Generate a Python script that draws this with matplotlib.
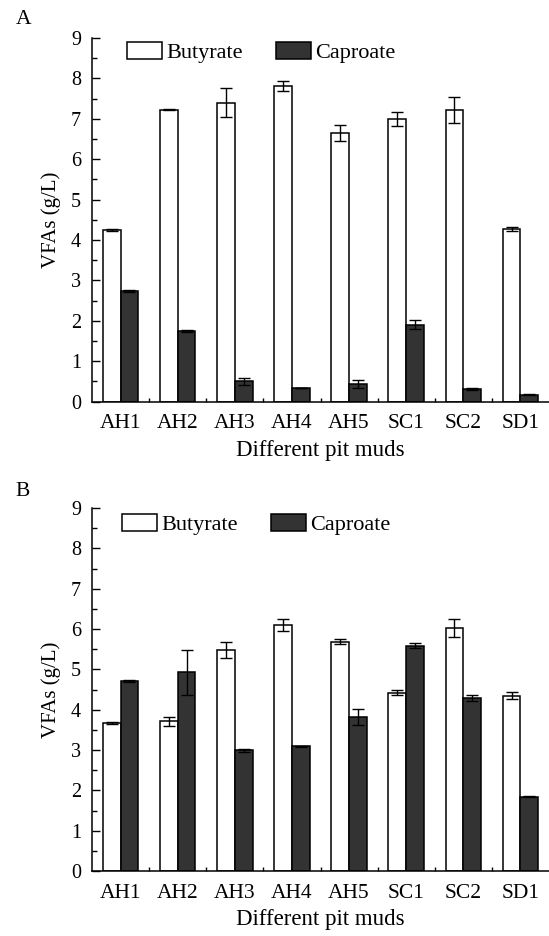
import numpy as np
import matplotlib
matplotlib.use("Agg")
import matplotlib.pyplot as plt
from matplotlib.ticker import MultipleLocator, FixedLocator

plt.rcParams['font.family'] = ['Liberation Serif', 'DejaVu Serif']

## Data
muds = ["AH1", "AH2", "AH3", "AH4", "AH5", "SC1", "SC2", "SD1"]

# panel A
butyrate_a = [4.25, 7.23, 7.40, 7.81, 6.64, 6.99, 7.22, 4.27]
butyrate_a_err = [0.02, 0.02, 0.36, 0.12, 0.20, 0.17, 0.33, 0.05]
caproate_a = [2.74, 1.75, 0.50, 0.35, 0.44, 1.91, 0.31, 0.17]
caproate_a_err = [0.03, 0.02, 0.08, 0.0, 0.09, 0.11, 0.02, 0.01]

# panel B
butyrate_b = [3.67, 3.71, 5.48, 6.11, 5.69, 4.42, 6.03, 4.35]
butyrate_b_err = [0.03, 0.12, 0.21, 0.15, 0.07, 0.06, 0.22, 0.09]
caproate_b = [4.71, 4.93, 2.99, 3.09, 3.82, 5.59, 4.29, 1.84]
caproate_b_err = [0.03, 0.56, 0.04, 0.02, 0.19, 0.07, 0.07, 0.01]

fig = plt.figure(figsize=(5.49, 9.36), dpi=100)

W, H = 549.0, 936.0
def ax_rect(left, top, right, bottom):
    return [left / W, 1 - bottom / H, (right - left) / W, (bottom - top) / H]

axA = fig.add_axes(ax_rect(92, 38, 549, 401.7))
axB = fig.add_axes(ax_rect(92, 508, 549, 871))

x = np.arange(1, len(muds) + 1)
w = 0.31

def draw_panel(ax, but, but_err, cap, cap_err, leg_pos):
    ekw = dict(ecolor='black', elinewidth=1.0, capsize=4.5, capthick=1.0)
    ax.bar(x - w / 2, but, w, yerr=but_err, color='white', edgecolor='black',
           linewidth=1.1, error_kw=ekw, label='Butyrate')
    ax.bar(x + w / 2, cap, w, yerr=cap_err, color='#333333', edgecolor='black',
           linewidth=1.1, error_kw=ekw, label='Caproate')
    ax.set_xlim(0.5, 8.5)
    ax.set_ylim(0, 9)
    ax.spines['top'].set_visible(False)
    ax.spines['right'].set_visible(False)
    ax.spines['left'].set_linewidth(1.1)
    ax.spines['bottom'].set_linewidth(1.1)
    ax.yaxis.set_major_locator(MultipleLocator(1))
    ax.yaxis.set_minor_locator(MultipleLocator(0.5))
    ax.set_xticks(x)
    ax.set_xticklabels(muds)
    ax.xaxis.set_minor_locator(FixedLocator(np.arange(1.5, 8.5, 1)))
    ax.tick_params(axis='y', which='major', direction='in', length=6, width=1,
                   labelsize=14.5, pad=8)
    ax.tick_params(axis='y', which='minor', direction='in', length=3.5, width=1)
    ax.tick_params(axis='x', which='major', length=0, labelsize=15.5, pad=9)
    ax.tick_params(axis='x', which='minor', direction='in', length=3, width=1)
    ax.set_xlabel("Different pit muds", fontsize=16.5, labelpad=5)
    ax.set_ylabel("VFAs (g/L)", fontsize=15, labelpad=7)
    ax.legend(loc='upper left', bbox_to_anchor=leg_pos, ncol=2, frameon=False,
              fontsize=16, handlelength=1.58, handleheight=0.81, handletextpad=0.18,
              columnspacing=1.5, borderpad=0.0, borderaxespad=0.0)

draw_panel(axA, butyrate_a, butyrate_a_err, caproate_a, caproate_a_err, (35 / 457, 0.989))
draw_panel(axB, butyrate_b, butyrate_b_err, caproate_b, caproate_b_err, (30 / 457, 0.983))

fig.text(23.5 / W, 1 - 19 / H, "A", fontsize=15.5, ha='center', va='center')
fig.text(23 / W, 1 - 491.5 / H, "B", fontsize=15.5, ha='center', va='center')

fig.savefig("out.png", dpi=100)
